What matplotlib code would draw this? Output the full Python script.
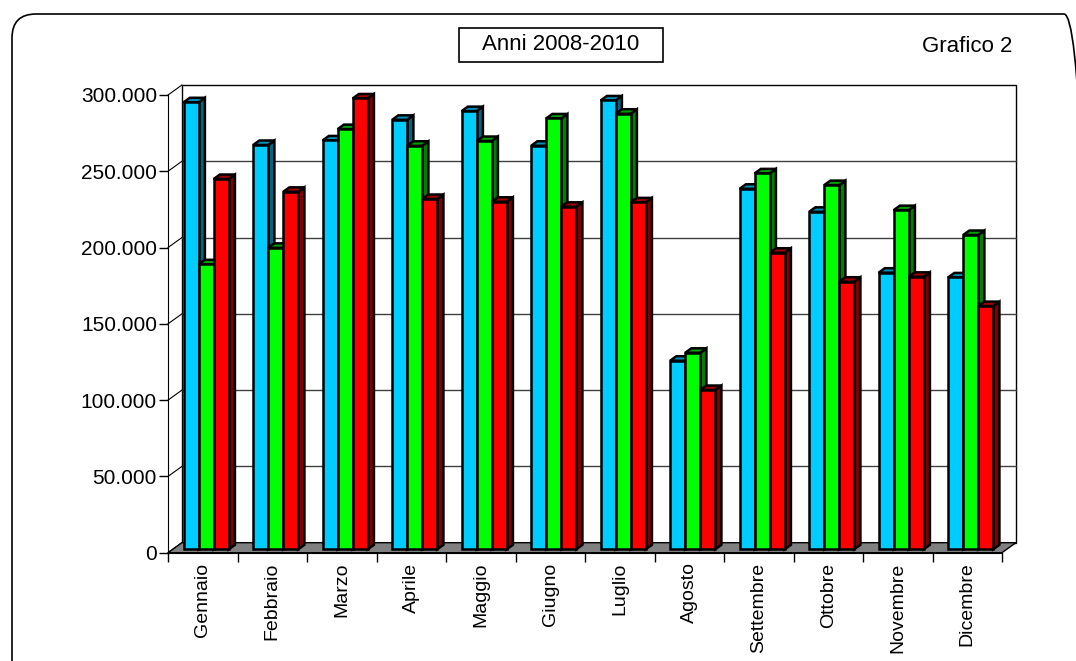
import matplotlib
matplotlib.use("Agg")
import matplotlib.pyplot as plt
from matplotlib.patches import Polygon, Rectangle, FancyBboxPatch
from matplotlib.transforms import IdentityTransform
import numpy as np

plt.rcParams['font.family'] = ['Liberation Sans', 'DejaVu Sans']

# Data
mesi = ['Gennaio', 'Febbraio', 'Marzo', 'Aprile', 'Maggio', 'Giugno',
        'Luglio', 'Agosto', 'Settembre', 'Ottobre', 'Novembre', 'Dicembre']
anno_2008 = [293000, 265000, 268000, 281500, 287200, 264500,
             294200, 123600, 236300, 221200, 181300, 178200]
anno_2009 = [186800, 197600, 275400, 264500, 267600, 282400,
             285500, 128800, 246400, 238700, 222300, 206000]
anno_2010 = [242700, 234300, 295500, 229600, 227800, 224500,
             227400, 104400, 194400, 175400, 178600, 159400]
y_ticks = [0, 50000, 100000, 150000, 200000, 250000, 300000]

serie = [anno_2008, anno_2009, anno_2010]
colori = ['#00CCFF', '#00FF00', '#FF0000']
colori_lato = ['#006680', '#008000', '#800000']
colori_top = ['#0090B8', '#00A000', '#A00000']

fig = plt.figure(figsize=(10.76, 6.61), dpi=100)
ax = fig.add_axes([168/1076, (661-552.7)/661, 834/1076, (552.7-95)/661])
ax.set_xlim(0, 12)
ax.set_ylim(0, 300000)
ax.patch.set_visible(False)

# depth of the 3D box (data units)
dx, dy = 0.2, 6555
f0 = 0.34      # where the bar front faces sit
fb = 0.45      # bar depth
w = 0.216      # bar width
x_start = 0.157

# back wall
ax.add_patch(Rectangle((dx, dy), 12, 300000, facecolor='white', edgecolor='black',
                       lw=1, clip_on=False, zorder=0.5))
for v in y_ticks[1:-1]:
    ax.plot([dx, 12 + dx], [v + dy, v + dy], color='#404040', lw=1, clip_on=False, zorder=0.6)
for v in y_ticks:
    ax.plot([0, dx], [v, v + dy], color='black', lw=0.8, clip_on=False, zorder=0.6)

# floor
ax.add_patch(Polygon([(0, 0), (12, 0), (12 + dx, dy), (dx, dy)], closed=True,
                     facecolor='#808080', edgecolor='black', lw=1, clip_on=False, zorder=0.7))

# bars
x = np.arange(12)
bx, by = fb * dx, fb * dy
base = f0 * dy
for k, vals in enumerate(serie):
    z = 3 + k
    left = x + x_start + f0 * dx + k * w
    for xl, v in zip(left, vals):
        top = v + base
        ax.add_patch(Polygon([(xl + w, base), (xl + w + bx, base + by),
                              (xl + w + bx, top + by), (xl + w, top)], closed=True,
                             facecolor=colori_lato[k], edgecolor='black', lw=1.8,
                             clip_on=False, zorder=z))
        ax.add_patch(Polygon([(xl, top), (xl + w, top), (xl + w + bx, top + by),
                              (xl + bx, top + by)], closed=True,
                             facecolor=colori_top[k], edgecolor='black', lw=1.8,
                             clip_on=False, zorder=z))
    ax.bar(left, vals, bottom=base, width=w, align='edge', color=colori[k],
           edgecolor='black', linewidth=1.8, clip_on=False, zorder=z + 0.5)

# axes
for s in ['top', 'right']:
    ax.spines[s].set_visible(False)
ax.spines['left'].set_zorder(0.8)
ax.spines['bottom'].set_zorder(0.8)
ax.set_yticks(y_ticks)
ax.set_yticklabels([f"{v:,.0f}".replace(',', '.') for v in y_ticks], fontsize=15)
ax.tick_params(axis='y', length=6.5, width=1, pad=1.5)
ax.set_xticks(np.arange(13))
ax.set_xticklabels([])
ax.tick_params(axis='x', which='major', length=6.5, width=1)
ax.set_xticks(x + 0.5, minor=True)
ax.set_xticklabels(mesi, minor=True, rotation=90, fontsize=14)
ax.tick_params(axis='x', which='minor', length=0, pad=7)

# title box and label
fig.patches.append(Rectangle((459/1076, 1 - 62/661), 204/1076, 34/661,
                             transform=fig.transFigure, facecolor='white',
                             edgecolor='black', lw=1.2))
fig.text(561/1076, 1 - 45/661, 'Anni 2008-2010', ha='center', va='center', fontsize=16)
fig.text(1012/1076, 1 - 47/661, 'Grafico 2', ha='right', va='center', fontsize=16)

# rounded frame
fig.patches.append(FancyBboxPatch((12, -25), 1076, 672,
                                  boxstyle='round,pad=0,rounding_size=24',
                                  transform=IdentityTransform(), facecolor='none',
                                  edgecolor='black', lw=1.2))

fig.savefig('out.png', dpi=100)
